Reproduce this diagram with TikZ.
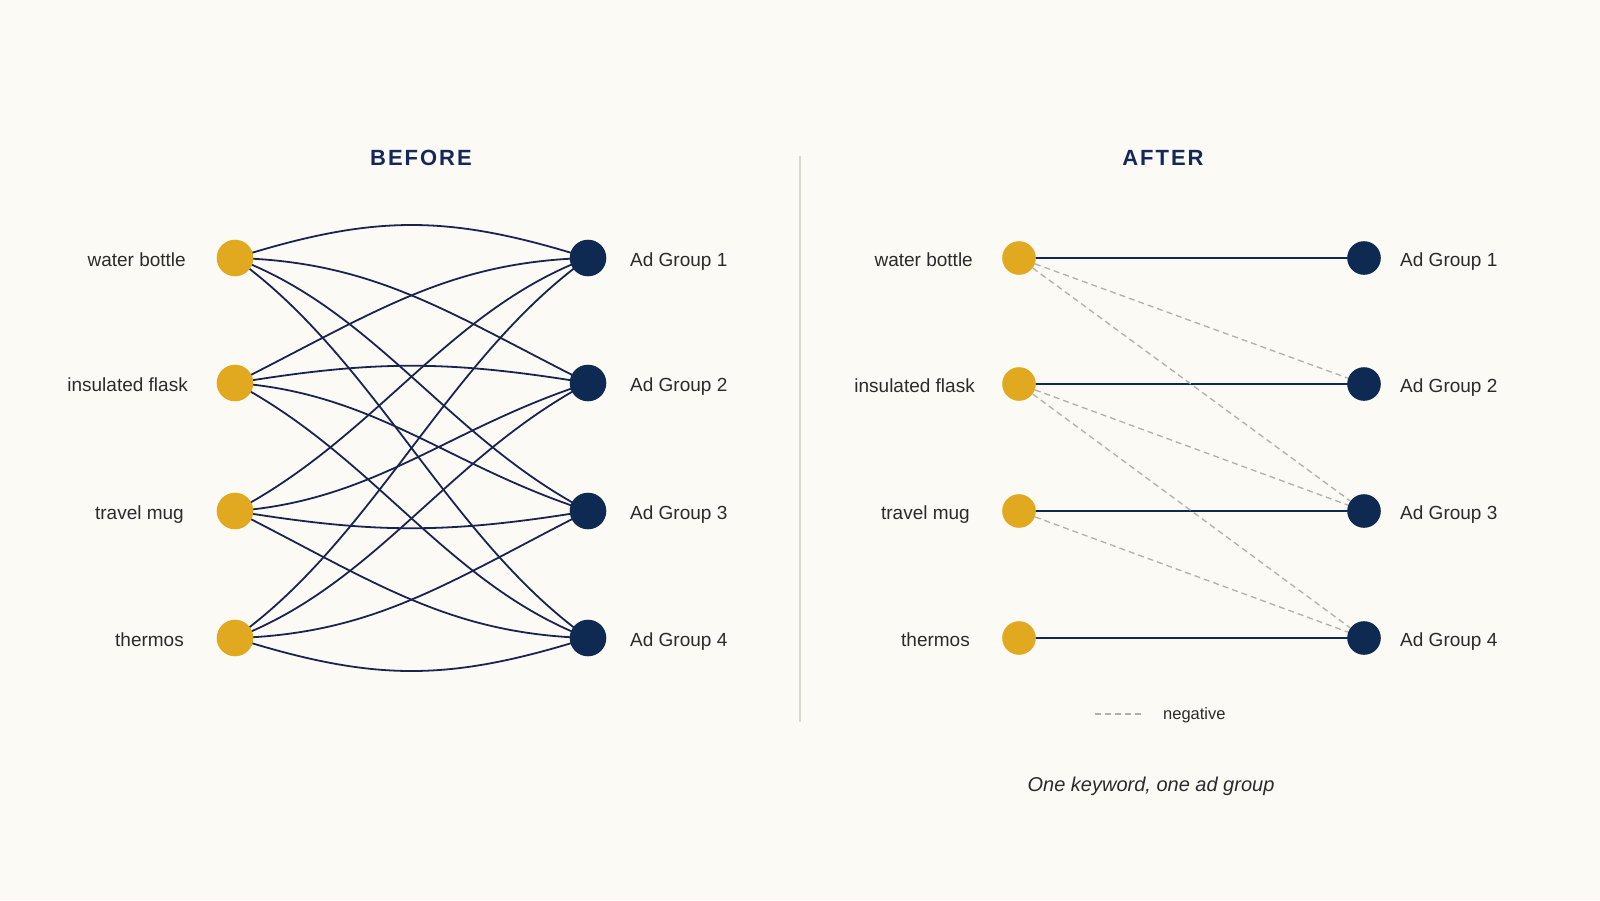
\documentclass[tikz,border=0pt]{standalone}
\usepackage{fontspec}
\setmainfont{Liberation Sans}
\newfontfamily\titlefont{Liberation Sans}[LetterSpace=9]
\definecolor{bgc}{HTML}{FBFAF4}
\definecolor{yel}{HTML}{E1A91F}
\definecolor{navy}{HTML}{0E2A52}
\definecolor{edgec}{HTML}{1B2450}
\definecolor{txt}{HTML}{2B2B2B}
\definecolor{ttl}{HTML}{16285A}
\definecolor{negc}{HTML}{B2B0AA}
\definecolor{divc}{HTML}{DAD7CF}
\pgfdeclarelayer{bg}
\pgfdeclarelayer{edges}
\pgfsetlayers{bg,edges,main}
\tikzset{
  kw/.style={circle, fill=yel, draw=none, minimum size=36.6pt, inner sep=0pt},
  ag/.style={circle, fill=navy, draw=none, minimum size=36.6pt, inner sep=0pt},
  kwa/.style={circle, fill=yel, draw=none, minimum size=33.6pt, inner sep=0pt},
  aga/.style={circle, fill=navy, draw=none, minimum size=33.6pt, inner sep=0pt},
  lblL/.style={anchor=mid east, text=txt, font=\fontsize{19}{23}\selectfont, inner sep=0pt},
  lblR/.style={anchor=mid west, text=txt, font=\fontsize{19}{23}\selectfont, inner sep=0pt},
  ttlstyle/.style={text=ttl, font=\fontsize{22}{26}\selectfont\titlefont\bfseries, inner sep=0pt},
  edge/.style={draw=edgec, line width=1.8pt},
  solidedge/.style={draw=navy, line width=2.4pt},
  neg/.style={draw=negc, line width=1.3pt, dash pattern=on 6pt off 4pt},
}
\begin{document}
\begin{tikzpicture}[x=1pt, y=-1pt]
\begin{pgfonlayer}{bg}
\fill[bgc] (0,0) rectangle (1600,900);
\end{pgfonlayer}
\useasboundingbox (0,0) rectangle (1600,900);

% titles
\node[ttlstyle] (tb) at (421,158) {BEFORE};
\node[ttlstyle] (ta) at (1163,158) {AFTER};

% divider
\coordinate (d1) at (800,156);
\coordinate (d2) at (800,722);
\draw[divc, line width=1.2pt] (d1) -- (d2);

% BEFORE nodes
\node[kw] (k1) at (235,258) {};
\node[kw] (k2) at (235,383) {};
\node[kw] (k3) at (235,511) {};
\node[kw] (k4) at (235,638) {};
\node[ag] (a1) at (588,258) {};
\node[ag] (a2) at (588,383) {};
\node[ag] (a3) at (588,511) {};
\node[ag] (a4) at (588,638) {};

\node[lblL] (lk1) at (186,264) {water bottle};
\node[lblL] (lk2) at (188,389) {insulated flask};
\node[lblL] (lk3) at (184,517) {travel mug};
\node[lblL] (lk4) at (184,644) {thermos};
\node[lblR] (la1) at (630,264) {Ad Group 1};
\node[lblR] (la2) at (630,389) {Ad Group 2};
\node[lblR] (la3) at (630,517) {Ad Group 3};
\node[lblR] (la4) at (630,644) {Ad Group 4};

\begin{pgfonlayer}{edges}
\draw[edge] (k1.center) .. controls +(140,-44) and +(-140,-44) .. (a1.center);
\draw[edge] (k1.center) .. controls +(140,3.5) and +(-140,-70.5) .. (a2.center);
\draw[edge] (k1.center) .. controls +(140,52) and +(-140,-73) .. (a3.center);
\draw[edge] (k1.center) .. controls +(140,100) and +(-140,-100) .. (a4.center);
\draw[edge] (k2.center) .. controls +(140,-70.5) and +(-140,3.5) .. (a1.center);
\draw[edge] (k2.center) .. controls +(140,-23) and +(-140,-23) .. (a2.center);
\draw[edge] (k2.center) .. controls +(140,10) and +(-140,-45) .. (a3.center);
\draw[edge] (k2.center) .. controls +(140,74) and +(-140,-53) .. (a4.center);
\draw[edge] (k3.center) .. controls +(140,-73) and +(-140,52) .. (a1.center);
\draw[edge] (k3.center) .. controls +(140,-10) and +(-140,45) .. (a2.center);
\draw[edge] (k3.center) .. controls +(140,23) and +(-140,23) .. (a3.center);
\draw[edge] (k3.center) .. controls +(140,71) and +(-140,-4) .. (a4.center);
\draw[edge] (k4.center) .. controls +(140,-100) and +(-140,100) .. (a1.center);
\draw[edge] (k4.center) .. controls +(140,-53) and +(-140,74) .. (a2.center);
\draw[edge] (k4.center) .. controls +(140,-4) and +(-140,71) .. (a3.center);
\draw[edge] (k4.center) .. controls +(140,44) and +(-140,44) .. (a4.center);
\end{pgfonlayer}

% AFTER nodes
\node[kwa] (b1) at (1019,258) {};
\node[kwa] (b2) at (1019,384) {};
\node[kwa] (b3) at (1019,511) {};
\node[kwa] (b4) at (1019,638) {};
\node[aga] (c1) at (1364,258) {};
\node[aga] (c2) at (1364,384) {};
\node[aga] (c3) at (1364,511) {};
\node[aga] (c4) at (1364,638) {};

\node[lblL] (lb1) at (973,264) {water bottle};
\node[lblL] (lb2) at (975,390) {insulated flask};
\node[lblL] (lb3) at (970,517) {travel mug};
\node[lblL] (lb4) at (970,644) {thermos};
\node[lblR] (lc1) at (1400,264) {Ad Group 1};
\node[lblR] (lc2) at (1400,390) {Ad Group 2};
\node[lblR] (lc3) at (1400,517) {Ad Group 3};
\node[lblR] (lc4) at (1400,644) {Ad Group 4};

\begin{pgfonlayer}{edges}
\draw[solidedge] (b1.center) -- (c1.center);
\draw[solidedge] (b2.center) -- (c2.center);
\draw[solidedge] (b3.center) -- (c3.center);
\draw[solidedge] (b4.center) -- (c4.center);
\draw[neg] (b1) -- (c2);
\draw[neg] (b1) -- (c3);
\draw[neg] (b2) -- (c3);
\draw[neg] (b2) -- (c4);
\draw[neg] (b3) -- (c4);
\end{pgfonlayer}

% legend
\coordinate (l1) at (1095,714);
\coordinate (l2) at (1142,714);
\draw[neg] (l1) -- (l2);
\node[anchor=mid west, text=txt, font=\fontsize{16.5}{20}\selectfont, inner sep=0pt] (legt) at (1163,717) {negative};

% caption
\node[text=txt, font=\fontsize{20}{24}\selectfont\itshape, inner sep=0pt] (cap) at (1151,786) {One keyword, one ad group};
\end{tikzpicture}
\end{document}
